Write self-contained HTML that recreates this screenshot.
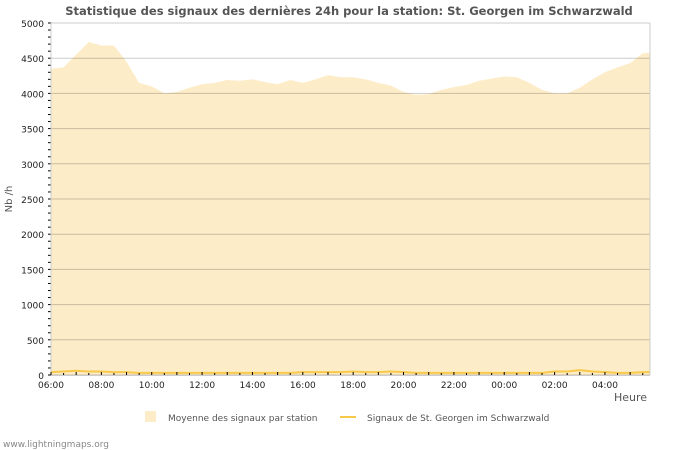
<!DOCTYPE html>
<html><head><meta charset="utf-8"><style>
body{margin:0;background:#fff;}
svg{display:block;font-family:"DejaVu Sans","Liberation Sans",sans-serif;}
</style></head><body>
<svg id="c" width="700" height="450">
<text x="349" y="15" text-anchor="middle" font-size="11.5" font-weight="bold" fill="#555">Statistique des signaux des dernières 24h pour la station: St. Georgen im Schwarzwald</text>
<g id="series"></g><g id="grid"></g><g id="axes"></g>
<text x="12" y="199" font-size="10" fill="#555" text-anchor="middle" transform="rotate(-90 12 199)">Nb /h</text>
<text x="647" y="401" font-size="11" fill="#555" text-anchor="end">Heure</text>
<g><rect x="145" y="411" width="11" height="11" fill="#fdecc8"/><text x="168" y="421" font-size="9" fill="#555">Moyenne des signaux par station</text></g>
<g><rect x="340" y="416" width="16" height="2" fill="#f8c94a"/><text x="367" y="421" font-size="9" fill="#555">Signaux de St. Georgen im Schwarzwald</text></g>
<text x="3" y="447" font-size="9" fill="#888">www.lightningmaps.org</text>
</svg>
<script>
const hours=[0,0.5,1,1.5,2,2.5,3,3.5,4,4.5,5,5.5,6,6.5,7,7.5,8,8.5,9,9.5,10,10.5,11,11.5,12,12.5,13,13.5,14,14.5,15,15.5,16,16.5,17,17.5,18,18.5,19,19.5,20,20.5,21,21.5,22,22.5,23,23.5,23.8];
const avgValues=[4350,4370,4550,4730,4680,4680,4450,4150,4100,4000,4020,4080,4130,4150,4190,4180,4200,4160,4130,4190,4150,4200,4260,4230,4230,4200,4150,4110,4020,3980,3990,4050,4090,4120,4180,4210,4240,4230,4150,4050,4000,4000,4080,4200,4300,4370,4430,4570,4580];
const stationValues=[40,50,60,50,50,40,40,30,30,30,30,30,30,30,30,30,30,30,30,30,40,40,40,40,50,40,40,50,40,30,30,30,30,30,30,30,30,30,30,30,50,50,70,50,40,30,30,40,40];
const yTicks=[0,500,1000,1500,2000,2500,3000,3500,4000,4500,5000];
const xTickLabels=["06:00","08:00","10:00","12:00","14:00","16:00","18:00","20:00","22:00","00:00","02:00","04:00"];
const X0=51,X1=650,Y0=375,Y1=23;
const xs=h=>X0+h*25.18;
const ys=v=>Y0-(v/5000)*(Y0-Y1);
const NS="http://www.w3.org/2000/svg";
function mk(p,t,a){const e=document.createElementNS(NS,t);for(const k in a)e.setAttribute(k,a[k]);p.appendChild(e);return e;}
const grid=document.getElementById('grid'),ser=document.getElementById('series'),ax=document.getElementById('axes');
yTicks.forEach(v=>{
 const l=mk(grid,'line',{x1:X0,x2:X1,y1:ys(v),y2:ys(v),stroke:'rgba(0,0,0,0.2)','stroke-width':1});
 
 
 const t=mk(ax,'text',{x:44,y:ys(v)+4,'text-anchor':'end','font-size':9,fill:'#222'});t.textContent=v;
 
 
});
for(let v=0;v<=5000;v+=100){mk(ax,'line',{x1:X0-3,x2:X0,y1:ys(v),y2:ys(v),stroke:'#000','stroke-width':1});}
let d='M'+xs(hours[0])+','+Y0;
hours.forEach((h,i)=>{d+=' L'+xs(h)+','+ys(avgValues[i]);});
d+=' L'+X1+','+ys(avgValues[avgValues.length-1])+' L'+X1+','+Y0+' Z';
const area=mk(ser,'path',{d:d,fill:'#fdecc8'});


let d2='';
hours.forEach((h,i)=>{d2+=(i?' L':'M')+xs(h)+','+ys(stationValues[i]);});
d2+=' L'+X1+','+ys(stationValues[stationValues.length-1]);
const line=mk(ser,'path',{d:d2,fill:'none',stroke:'#f8c94a','stroke-width':2});


mk(ax,'line',{x1:X0,x2:X0,y1:Y1,y2:Y0,stroke:'#ccc'});
mk(ax,'line',{x1:X1,x2:X1,y1:Y1,y2:Y0,stroke:'#ccc'});
mk(ax,'line',{x1:X0,x2:X1,y1:Y0+0.5,y2:Y0+0.5,stroke:'#ccc'});
for(let h=0;h<24;h+=0.5){mk(ax,'line',{x1:xs(h),x2:xs(h),y1:Y0-(h%1?2:3),y2:Y0,stroke:'#000'});}
xTickLabels.forEach((s,i)=>{
 const t=mk(ax,'text',{x:xs(i*2),y:388,'text-anchor':'middle','font-size':9,fill:'#222'});t.textContent=s;
 
 
});
</script>
</body></html>
